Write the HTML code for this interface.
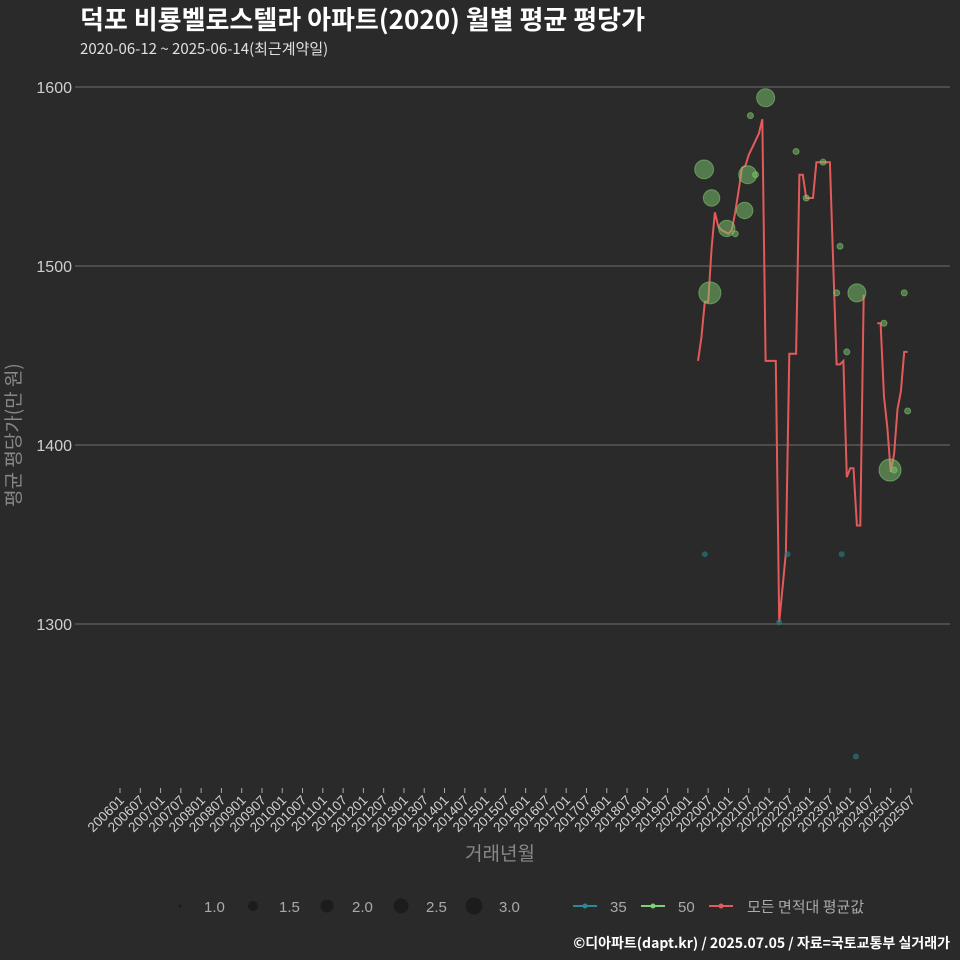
<!DOCTYPE html>
<html><head><meta charset="utf-8"><style>
body{margin:0;background:#2a2a2a;}
svg{display:block;font-family:"Liberation Sans","Noto Sans CJK KR",sans-serif;}
</style></head><body>
<svg id="c" width="960" height="960" viewBox="0 0 960 960">
<rect width="960" height="960" fill="#2a2a2a"/>
<text x="80" y="29" fill="#ffffff" font-size="26" font-weight="bold" font-family="'Noto Sans CJK KR',sans-serif">덕포 비룡벨로스텔라 아파트(2020) 월별 평균 평당가</text>
<text x="80" y="54" fill="#e0e0e0" font-size="15" font-family="'Noto Sans CJK KR',sans-serif">2020-06-12 ~ 2025-06-14(최근계약일)</text>
<g id="grid"></g><g id="yt"></g><g id="xt"></g><g id="marks"></g>
<text transform="translate(20,435) rotate(-90)" text-anchor="middle" fill="#888" font-size="19" font-family="'Noto Sans CJK KR',sans-serif">평균 평당가(만 원)</text>
<text x="500" y="860" text-anchor="middle" fill="#888" font-size="19" font-family="'Noto Sans CJK KR',sans-serif">거래년월</text>
<g>
<circle cx="180" cy="906" r="1.5" fill="#1c1c1c"/><text x="204" y="912" fill="#aaa" font-size="15">1.0</text>
<circle cx="253" cy="906" r="5" fill="#1c1c1c"/><text x="279" y="912" fill="#aaa" font-size="15">1.5</text>
<circle cx="327" cy="906" r="6.5" fill="#1c1c1c"/><text x="352" y="912" fill="#aaa" font-size="15">2.0</text>
<circle cx="401" cy="906" r="7.5" fill="#1c1c1c"/><text x="426" y="912" fill="#aaa" font-size="15">2.5</text>
<circle cx="474" cy="906" r="8.5" fill="#1c1c1c"/><text x="499" y="912" fill="#aaa" font-size="15">3.0</text>
<line x1="573" y1="906" x2="597" y2="906" stroke="#2a8a9a" stroke-width="2"/><circle cx="585" cy="906" r="2.5" fill="#2a8a9a"/><text x="610" y="912" fill="#aaa" font-size="15">35</text>
<line x1="641" y1="906" x2="665" y2="906" stroke="#7ed07a" stroke-width="2"/><circle cx="653" cy="906" r="2.5" fill="#7ed07a"/><text x="678" y="912" fill="#aaa" font-size="15">50</text>
<line x1="709" y1="906" x2="733" y2="906" stroke="#e35a5a" stroke-width="2"/><circle cx="721" cy="906" r="2.5" fill="#e35a5a"/><text x="747" y="912" fill="#aaa" font-size="15" font-family="'Noto Sans CJK KR',sans-serif">모든 면적대 평균값</text>
</g>
<text x="950" y="948" text-anchor="end" fill="#ffffff" font-size="14" font-weight="bold" font-family="'Noto Sans CJK KR',sans-serif">©디아파트(dapt.kr) / 2025.07.05 / 자료=국토교통부 실거래가</text>
</svg>
<script>
const yTicks=[1300,1400,1500,1600];
const lineMonths=[171,172,173,174,175,176,177,178,179,180,181,182,183,184,185,186,187,188,189,190,191,192,193,194,195,196,197,198,199,200,201,202,203,204,205,206,207,208,209,210,211,212,213,214,215,216,217,218,219,220,221,222,223,224,225,226,227,228,229,230,231,232,233];
const lineValues=[1447,1460,1480,1480,1510,1530,1522,1520,1519,1518,1520,1530,1542,1555,1556,1562,1566,1570,1574,1582,1447,1447,1447,1447,1301,1320,1340,1451,1451,1451,1551,1551,1538,1538,1538,1558,1558,1558,1558,1558,1500,1445,1445,1447,1382,1387,1387,1355,1355,1484,null,null,null,1468,1468,1427,1410,1385,1395,1420,1430,1452,1452];
const p50Months=[172.8,175,174.5,179.5,182,184.8,185.7,188,186.5,191,200,203,208,213,212,218,232,226,215,233,227.8,229];
const p50Values=[1554,1538,1485,1521,1518,1531,1551,1551,1584,1594,1564,1538,1558,1511,1485,1485,1485,1468,1452,1419,1386,1386];
const p50Counts=[2.6,2.3,3,2.3,1,2.3,2.5,1,1,2.5,1,1,1,1,1,2.5,1,1,1,1,3,1];
const p35Months=[173,197.5,213.5,195,217.7];
const p35Values=[1339,1339,1339,1301,1226];
const ns='http://www.w3.org/2000/svg';
const X=m=>120+m*(791/234), Y=v=>624-(v-1300)*(537/300), R=c=>3+(c-1)*4;
function el(t,a,p){const e=document.createElementNS(ns,t);for(const k in a)e.setAttribute(k,a[k]);document.getElementById(p).appendChild(e);return e;}
yTicks.forEach(v=>{
 const g=el('line',{x1:75,x2:950,y1:Y(v),y2:Y(v),stroke:'#6e6e6e','stroke-width':1},'grid');
 
 
 const t=el('text',{x:72,y:Y(v)+6,'text-anchor':'end',fill:'#cfcfcf','font-size':16},'yt');t.textContent=v;
 
 
});
for(let i=0;i<40;i++){
 const yr=2006+Math.floor(i/2),lab=yr+(i%2?'07':'01'),x=X(i*6);
 const tk=el('line',{x1:x,x2:x,y1:788,y2:793,stroke:'#aaa'},'xt');
 
 
 const t=el('text',{transform:`translate(${x+5},801) rotate(-45)`,'text-anchor':'end',fill:'#d0d0d0','font-size':13.5},'xt');t.textContent=lab;
 
 
}
let d='',pen=false;
lineMonths.forEach((m,i)=>{const v=lineValues[i];if(v==null){pen=false;return;}d+=(pen?'L':'M')+X(m).toFixed(1)+' '+Y(v).toFixed(1);pen=true;});
const ln=el('path',{d:d,fill:'none',stroke:'#e35a5a','stroke-width':2},'marks');


p50Months.forEach((m,i)=>{
 const c=el('circle',{cx:X(m),cy:Y(p50Values[i]),r:R(p50Counts[i]),fill:'rgba(126,200,110,0.5)',stroke:'rgba(126,200,110,0.6)'},'marks');
 
 
});
p35Months.forEach((m,i)=>{
 const c=el('circle',{cx:X(m),cy:Y(p35Values[i]),r:3,fill:'rgba(40,130,140,0.6)'},'marks');
 
 
});
</script>
</body></html>
